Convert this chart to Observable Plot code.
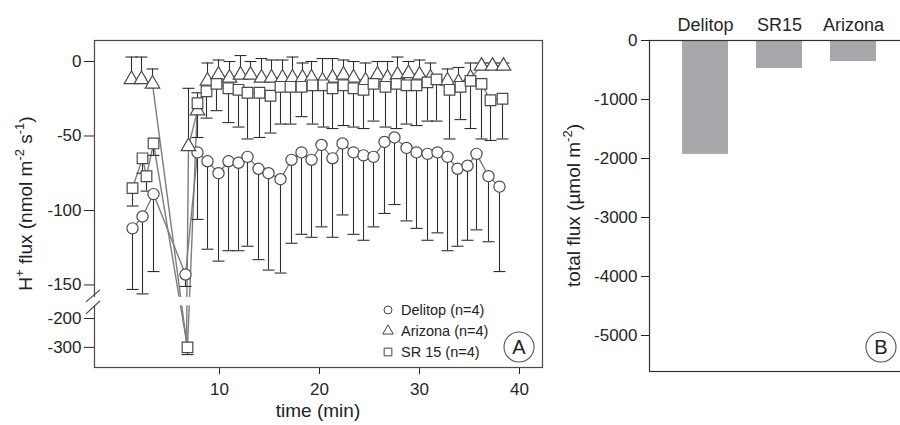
<!DOCTYPE html>
<html><head><meta charset="utf-8">
<script src="https://cdn.jsdelivr.net/npm/d3@7"></script>
<script src="https://cdn.jsdelivr.net/npm/@observablehq/plot@0.6"></script>
<style>
html,body{margin:0;padding:0;background:#fff;overflow:hidden;}
#wrap{position:relative;width:900px;height:425px;overflow:hidden;font-family:"Liberation Sans",Arial,sans-serif;}
#a{position:absolute;left:0;top:0;width:560px;}
#b{position:absolute;left:560px;top:0;width:360px;}
#wrap svg{max-width:none !important;}
</style></head><body><div id="wrap"><div id="a"></div><div id="b"></div></div>
<script>
// ---------- DATA (panel A: H+ flux, nmol m-2 s-1, vs time in min) ----------
const delitopTime = [1.3,2.3,3.4,6.6, 7.8,8.8,9.9,10.9,11.9,12.8, 13.9,14.9,16.1,17.2,18.2,19.2, 20.2,21.3,22.3,23.4,24.4,25.4, 26.5,27.5,28.7,29.7,30.8,31.8, 32.8,33.8,34.8,35.7,36.9,38.0];
const delitopFlux = [-112,-104,-89,-143, -61,-67,-75,-67,-68,-64, -72,-75,-79,-66,-61,-66, -56,-65,-55,-61,-63,-64, -54,-51,-58,-61,-62,-61, -64,-72,-70,-62,-77,-84];
const delitopErr  = [41,52,52,8, 45,59,59,60,59,60, 61,65,63,56,55,52, 55,53,48,55,57,47, 48,45,49,51,58,54, 63,52,50,51,44,57];

const arizonaTime = [1.2,2.2,3.3,6.7,6.9, 7.8,8.8,9.9,11.0,12.1,13.1, 14.2,15.2,16.3,17.3,18.3,19.2, 20.3,21.3,22.4,23.4,24.6,25.8, 26.8,27.8,28.9,30.0,31.1, 32.8,33.9,35.1,36.2,37.3,38.4];
const arizonaFlux = [-12,-12,-15,-280,-57, -33,-13,-9,-11,-9,-9, -11,-11,-11,-11,-11,-11, -13,-11,-9,-11,-13,-9, -11,-9,-8,-9,-11, -13,-14,-11,-3,-3,-3];
const arizonaErr  = [15,15,10,10,39, 12,12,10,11,13,9, 13,12,12,14,10,11, 15,13,10,11,12,9, 11,12,8,10,10, 8,10,10,2,2,2];

const sr15Time = [1.3,2.3,2.7,3.4,6.8, 7.8,8.7,9.7,10.9,11.9, 12.8,14.0,15.1,16.1,17.1, 18.2,19.3,20.4,21.3,22.4, 23.4,24.4,25.4,26.6,27.7, 28.7,29.7,30.8,31.7,33.0, 34.1,35.1,36.2,37.1,38.3];
const sr15Flux = [-85,-65,-77,-55,-300, -28,-20,-15,-18,-19, -21,-21,-23,-17,-17, -17,-16,-16,-18,-16, -18,-19,-15,-17,-15, -16,-16,-14,-12,-19, -17,-13,-15,-26,-25];
const sr15Err  = [12,10,10,8,25, 23,18,18,23,25, 31,30,25,25,25, 20,26,28,27,27, 26,26,25,27,30, 26,27,26,28,33, 22,32,37,27,27];

const xTicksA = [10,20,30,40];
const yTicksA = [0,-50,-100,-150,-200,-300];
const legendLabels = ["Delitop (n=4)","Arizona (n=4)","SR 15 (n=4)"];

// ---------- DATA (panel B: total flux, µmol m-2) ----------
const barCategories = ["Delitop","SR15","Arizona"];
const barValues = [-1930,-475,-356];
const yTicksB = [0,-1000,-2000,-3000,-4000,-5000];

// ---------- broken y axis for panel A ----------
const BREAK_V = -158, LOW_ANCHOR_V = -200, LOW_ANCHOR_P = -172.5, LOW_SLOPE = 0.194;
function fy(v){ return v >= BREAK_V ? v : LOW_ANCHOR_P + (v - LOW_ANCHOR_V) * LOW_SLOPE; }

const FONT = '"Liberation Sans", Arial, sans-serif';
const W_A = 560, H = 425;
const mA = {top:40, right:18, bottom:58, left:94};
const xDomA = [-2.5, 42.3];
const yDomA = [-205.4, 14.1];

function rows(name, T, V, E, dir){ return T.map((t,i)=>({series:name, t, v:V[i], end:V[i] + dir*E[i]})); }
const dD = rows("Delitop", delitopTime, delitopFlux, delitopErr, -1);
const dA = rows("Arizona", arizonaTime, arizonaFlux, arizonaErr, +1);
const dS = rows("SR 15", sr15Time, sr15Flux, sr15Err, -1);

const capSymbol = {draw(ctx, size){ const r = Math.sqrt(size/Math.PI); ctx.moveTo(-r,0); ctx.lineTo(r,0); }};
const labelMapA = new Map(yTicksA.map(v => [fy(v), String(v)]));

const series = [
  {d:dD, symbol:"circle", r:5.6, markBelowBreak:true},
  {d:dA, symbol:"triangle", r:5.4, markBelowBreak:false},
  {d:dS, symbol:"square", r:6.0, markBelowBreak:true}
];

const svgA = Plot.plot({
  width: W_A, height: H,
  marginTop: mA.top, marginRight: mA.right, marginBottom: mA.bottom, marginLeft: mA.left,
  style: {fontFamily: FONT, fontSize: "17px", color: "#262626", background: "transparent"},
  x: {domain: xDomA, ticks: xTicksA, tickSize: 7, tickPadding: 8, tickFormat: d => String(d), label: null},
  y: {domain: yDomA, ticks: yTicksA.map(fy), tickSize: 10, tickPadding: 3, tickFormat: d => labelMapA.get(d), label: null},
  marks: [
    ...series.map(s => Plot.line(s.d, {x:"t", y: r => fy(r.v), stroke:"#7d7d7d", strokeWidth:1.4})),
    ...series.map(s => Plot.ruleX(s.d, {filter: r => s.markBelowBreak || r.v >= BREAK_V, x:"t", y1: r => fy(r.v), y2: r => fy(r.end), stroke:"#2e2e2e", strokeWidth:1.1})),
    ...series.map(s => Plot.dot(s.d, {filter: r => s.markBelowBreak || r.v >= BREAK_V, x:"t", y: r => fy(r.end), symbol: capSymbol, r: 6, fill:"none", stroke:"#2e2e2e", strokeWidth:1.1})),
    ...series.map(s => Plot.dot(s.d, {filter: r => s.markBelowBreak || r.v >= BREAK_V, x:"t", y: r => fy(r.v), symbol: s.symbol, r: s.r, fill:"white", stroke:"#4a4a4a", strokeWidth:1.2})),
    Plot.frame({stroke:"#4a4a4a", strokeWidth:1.2})
  ]
});
document.getElementById("a").appendChild(svgA);

const gA = d3.select(svgA);
const xPx = d3.scaleLinear(xDomA, [mA.left, W_A - mA.right]);
const yPx = d3.scaleLinear(yDomA, [H - mA.bottom, mA.top]);
const gapTop = yPx(fy(BREAK_V)), gapBot = yPx(fy(BREAK_V - 0.01));
gA.append("rect").attr("x", mA.left - 3).attr("y", gapTop + 0.5)
  .attr("width", xPx(10) - mA.left + 3).attr("height", gapBot - gapTop - 1).attr("fill", "white");
[[mA.left - 8, gapTop + 5.5, mA.left + 6, gapTop - 6.5],[mA.left - 8, gapBot + 8, mA.left + 6, gapBot - 5]].forEach(([x1,y1,x2,y2]) =>
  gA.append("line").attr("x1",x1).attr("y1",y1).attr("x2",x2).attr("y2",y2).attr("stroke","#444").attr("stroke-width",1.2));

// axis titles
gA.append("text").attr("x", (mA.left + W_A - mA.right)/2).attr("y", 417).attr("text-anchor","middle")
  .attr("font-size", 19).attr("fill","#222").text("time (min)");
const yl = gA.append("text").attr("transform", `translate(32,${(mA.top + H - mA.bottom)/2}) rotate(-90)`)
  .attr("text-anchor","middle").attr("font-size", 19).attr("fill","#222");
yl.append("tspan").text("H");
yl.append("tspan").attr("font-size",13).attr("dy",-8).text("+");
yl.append("tspan").attr("dy",8).text(" flux (nmol m");
yl.append("tspan").attr("font-size",13).attr("dy",-8).text("-2");
yl.append("tspan").attr("dy",8).text(" s");
yl.append("tspan").attr("font-size",13).attr("dy",-8).text("-1");
yl.append("tspan").attr("dy",8).text(")");

// legend
const legY = [310, 331, 352], legSym = [d3.symbolCircle, d3.symbolTriangle, d3.symbolSquare], legSize = [50, 48, 60];
legendLabels.forEach((lab, i) => {
  gA.append("path").attr("d", d3.symbol(legSym[i], legSize[i])()).attr("transform", `translate(388,${legY[i]})`)
    .attr("fill","white").attr("stroke","#444").attr("stroke-width",1.0);
  gA.append("text").attr("x", 401).attr("y", legY[i] + 5.2).attr("text-anchor","start").attr("font-size", 14.5).attr("fill","#222").text(lab);
});
gA.append("circle").attr("cx",519).attr("cy",347).attr("r",15).attr("fill","none").attr("stroke","#555").attr("stroke-width",1.1);
gA.append("text").attr("x",519).attr("y",354).attr("text-anchor","middle").attr("font-size",20).attr("fill","#222").text("A");

// ---------- panel B ----------
const W_B = 360;
const mB = {top:40, right:0, bottom:54, left:89};
const yDomB = [-5610, 0];
const svgB = Plot.plot({
  width: W_B, height: H,
  marginTop: mB.top, marginRight: mB.right, marginBottom: mB.bottom, marginLeft: mB.left,
  style: {fontFamily: FONT, fontSize: "17px", color: "#262626", background: "transparent"},
  x: {domain: barCategories, range: [108, 330], paddingInner: 0.378, paddingOuter: 0.189, axis: "top", tickSize: 0, tickPadding: 10, label: null},
  y: {domain: yDomB, ticks: yTicksB, tickSize: 8, tickPadding: 4, tickFormat: d => String(d), label: null},
  marks: [
    Plot.barY(barCategories.map((c,i) => ({c, v: barValues[i]})), {x:"c", y:"v", fill:"#a7a8ab"}),
    Plot.frame({stroke:"#333", strokeWidth:1.2})
  ]
});
document.getElementById("b").appendChild(svgB);
const gB = d3.select(svgB);
gB.selectAll("text").filter(function(){ return barCategories.includes(this.textContent); }).attr("font-size", 18);
const yl2 = gB.append("text").attr("transform", `translate(20,${(mB.top + H - mB.bottom)/2}) rotate(-90)`)
  .attr("text-anchor","middle").attr("font-size", 19).attr("fill","#222");
yl2.append("tspan").text("total flux (µmol m");
yl2.append("tspan").attr("font-size",13).attr("dy",-8).text("-2");
yl2.append("tspan").attr("dy",8).text(")");
gB.append("circle").attr("cx",321).attr("cy",347).attr("r",15).attr("fill","none").attr("stroke","#555").attr("stroke-width",1.1);
gB.append("text").attr("x",321).attr("y",354).attr("text-anchor","middle").attr("font-size",20).attr("fill","#222").text("B");
</script></body></html>
